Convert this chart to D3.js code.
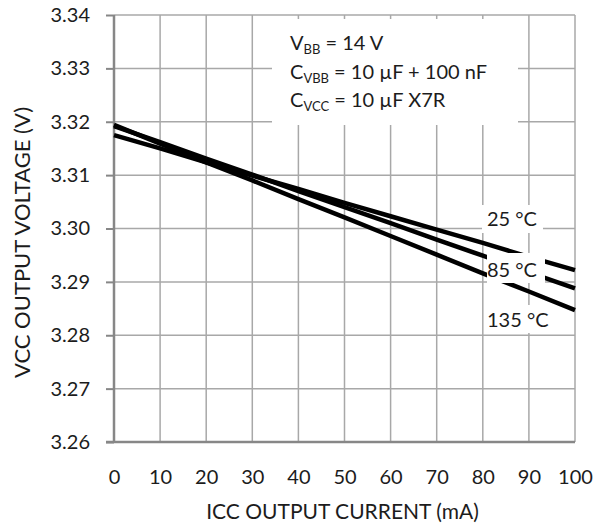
<!DOCTYPE html>
<html>
<head>
<meta charset="utf-8">
<script src="https://cdn.jsdelivr.net/npm/d3@7"></script>
<style>
  html, body { margin: 0; padding: 0; background: #fff; }
  svg { display: block; font-family: "Lato", "DejaVu Sans", sans-serif; }
</style>
</head>
<body>
<svg id="chart" width="605" height="527"></svg>
<script>
// Output current (mA) and VCC output voltage (V) per junction temperature
const currents = [0, 10, 20, 30, 40, 50, 60, 70, 80, 90, 100];
const v25 = [3.3175, 3.3150, 3.3124, 3.3099, 3.3074, 3.3048, 3.3023, 3.2998, 3.2973, 3.2947, 3.2922];
const v85 = [3.3192, 3.3162, 3.3131, 3.3101, 3.3070, 3.3040, 3.3010, 3.2979, 3.2949, 3.2918, 3.2888];
const v135 = [3.3194, 3.3159, 3.3124, 3.3090, 3.3055, 3.3021, 3.2986, 3.2951, 3.2916, 3.2882, 3.2847];

const xTicks = [0, 10, 20, 30, 40, 50, 60, 70, 80, 90, 100];
const yTicks = [3.26, 3.27, 3.28, 3.29, 3.30, 3.31, 3.32, 3.33, 3.34];

const series = [
  { name: "25 °C", values: v25 },
  { name: "85 °C", values: v85 },
  { name: "135 °C", values: v135 },
];

const svg = d3.select("#chart");
const plot = { left: 114, right: 575, top: 15, bottom: 442 };

const x = d3.scaleLinear().domain([0, 100]).range([plot.left, plot.right]);
const y = d3.scaleLinear().domain([3.26, 3.34]).range([plot.bottom, plot.top]);

const gridColor = "#a8a8a8";
const axisColor = "#878787";
const textColor = "#1c1c1c";

// Gridlines
svg.append("g")
  .selectAll("line.v")
  .data(xTicks.slice(1))
  .join("line")
  .attr("x1", (d) => x(d)).attr("x2", (d) => x(d))
  .attr("y1", plot.top).attr("y2", plot.bottom)
  .attr("stroke", gridColor).attr("stroke-width", 1.5);

svg.append("g")
  .selectAll("line.h")
  .data(yTicks.slice(1))
  .join("line")
  .attr("x1", plot.left).attr("x2", plot.right)
  .attr("y1", (d) => y(d)).attr("y2", (d) => y(d))
  .attr("stroke", gridColor).attr("stroke-width", 1.5);

// Y axis with outside ticks
const yAxis = svg.append("g")
  .attr("transform", `translate(${plot.left},0)`)
  .call(d3.axisLeft(y).tickValues(yTicks).tickSize(8).tickFormat(d3.format(".2f")));
yAxis.select(".domain").remove();
yAxis.selectAll(".tick line").attr("stroke", axisColor).attr("stroke-width", 2);
yAxis.selectAll(".tick text")
  .attr("x", -24)
  .attr("fill", textColor)
  .style("font-size", "20px")
  .style("font-family", "Lato");
yAxis.append("line")
  .attr("x1", 0).attr("x2", 0)
  .attr("y1", plot.top).attr("y2", plot.bottom)
  .attr("stroke", axisColor).attr("stroke-width", 2.5);

// X axis
const xAxis = svg.append("g")
  .attr("transform", `translate(0,${plot.bottom})`)
  .call(d3.axisBottom(x).tickValues(xTicks).tickSize(0).tickPadding(28));
xAxis.select(".domain").remove();
xAxis.selectAll(".tick text")
  .attr("fill", textColor)
  .style("font-size", "20px")
  .style("font-family", "Lato");
xAxis.append("line")
  .attr("x1", plot.left - 8).attr("x2", plot.right)
  .attr("y1", 0).attr("y2", 0)
  .attr("stroke", axisColor).attr("stroke-width", 2.5);

// Curves
const line = d3.line()
  .x((d, i) => x(currents[i]))
  .y((d) => y(d));

svg.append("g")
  .selectAll("path")
  .data(series)
  .join("path")
  .attr("d", (d) => line(d.values))
  .attr("fill", "none")
  .attr("stroke", "#000")
  .attr("stroke-width", 4.5);

// Condition box
const box = svg.append("g");
box.append("rect")
  .attr("x", 272).attr("y", 19).attr("width", 246).attr("height", 106)
  .attr("fill", "#fff");

const cond = [
  { main: "V", sub: "BB", rest: " = 14 V" },
  { main: "C", sub: "VBB", rest: " = 10 µF + 100 nF" },
  { main: "C", sub: "VCC", rest: " = 10 µF X7R" },
];
cond.forEach((c, i) => {
  const t = box.append("text")
    .attr("x", 290).attr("y", 50 + i * 28.5)
    .attr("fill", textColor)
    .style("font-size", "20px");
  t.append("tspan").text(c.main);
  t.append("tspan").attr("dy", 4).style("font-size", "13px").text(c.sub);
  t.append("tspan").attr("dy", -4).text(c.rest);
});

// Temperature labels with white backgrounds
const labels = [
  { text: "25 °C", box: [482, 205, 61, 28], tx: 487, ty: 226 },
  { text: "85 °C", box: [487, 253, 58, 30], tx: 487, ty: 277 },
  { text: "135 °C", box: [485, 305, 65, 28], tx: 487, ty: 327 },
];
const lg = svg.append("g");
labels.forEach((l) => {
  lg.append("rect")
    .attr("x", l.box[0]).attr("y", l.box[1])
    .attr("width", l.box[2]).attr("height", l.box[3])
    .attr("fill", "#fff");
  lg.append("text")
    .attr("x", l.tx).attr("y", l.ty)
    .attr("fill", textColor)
    .style("font-size", "20px")
    .text(l.text);
});

// Axis titles
svg.append("text")
  .attr("x", (plot.left + plot.right) / 2 - 2)
  .attr("y", 519)
  .attr("text-anchor", "middle")
  .attr("fill", textColor)
  .style("font-size", "21px")
  .text("ICC OUTPUT CURRENT (mA)");

svg.append("text")
  .attr("transform", `translate(30,${(plot.top + plot.bottom) / 2 + 14}) rotate(-90)`)
  .attr("text-anchor", "middle")
  .attr("fill", textColor)
  .style("font-size", "22px")
  .text("VCC OUTPUT VOLTAGE (V)");
</script>
</body>
</html>
